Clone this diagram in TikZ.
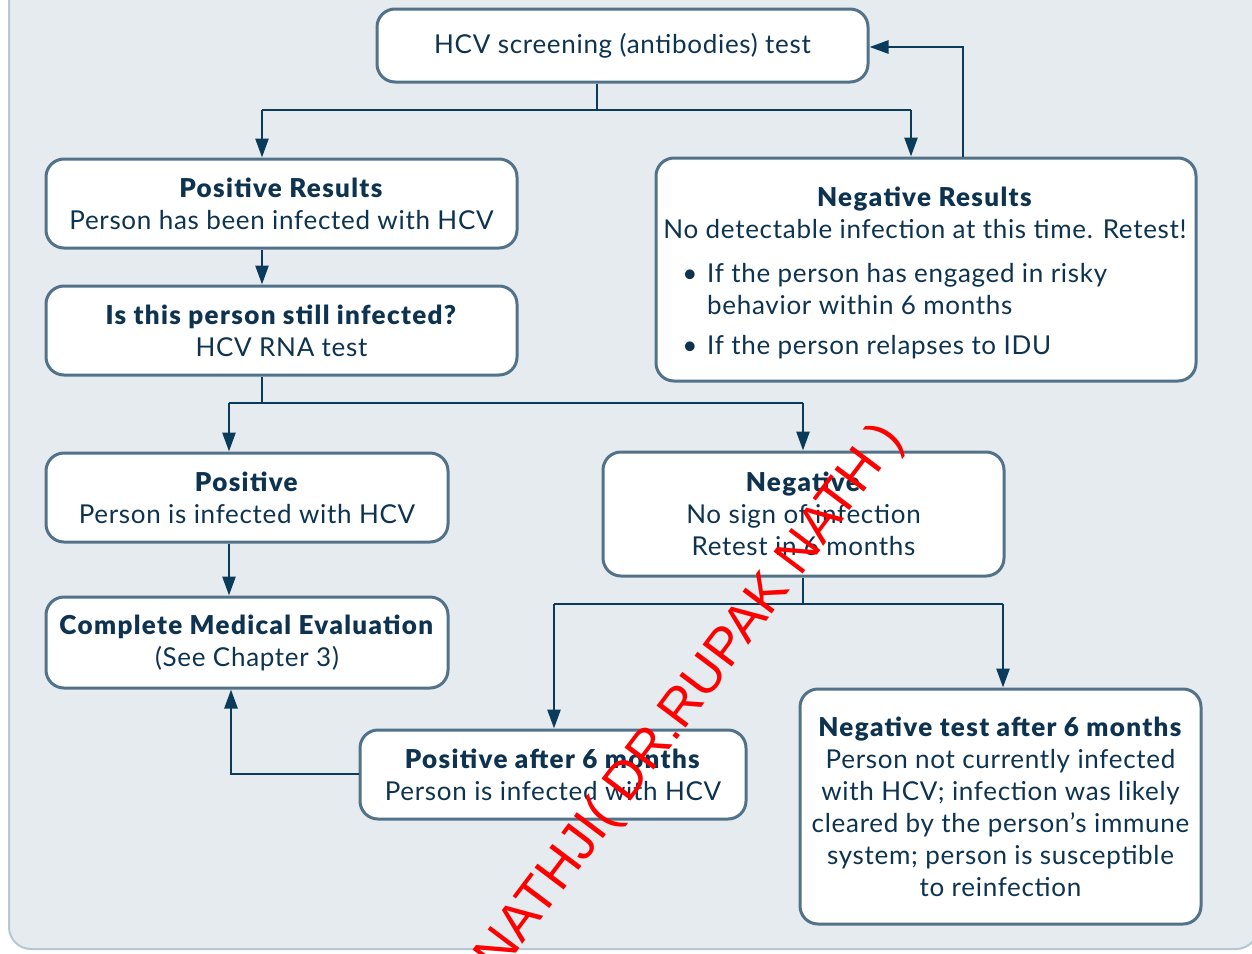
\documentclass[tikz,border=0pt]{standalone}
\usepackage{fontspec}
\setmainfont{Lato}[LetterSpace=2.7, BoldFont={Lato Black}, BoldFeatures={LetterSpace=5.2}]
\newfontfamily\wmfont{Liberation Sans}
\usetikzlibrary{arrows.meta}
\definecolor{panel}{HTML}{E5EBEE}
\definecolor{panelborder}{HTML}{B7C7D1}
\definecolor{boxborder}{HTML}{527289}
\definecolor{ink}{HTML}{0D3350}
\definecolor{arrowc}{HTML}{0B3B5B}
\begin{document}
\begin{tikzpicture}[x=1pt,y=-1pt,
  box/.style={draw=boxborder, line width=3pt, fill=white, rounded corners=18pt, inner sep=0pt, align=center, text=ink, font=\fontsize{26}{32}\selectfont},
  txt/.style={inner sep=0pt, text=ink, font=\fontsize{26}{32}\selectfont, anchor=base},
  conn/.style={draw=arrowc, line width=2.6pt},
  arr/.style={conn, -{Triangle[length=19pt,width=13pt]}},
]
\useasboundingbox (0,0) rectangle (1252,953);
\fill[white] (0,0) rectangle (1252,953);
\draw[panelborder, fill=panel, line width=2pt, rounded corners=22pt] (9,-40) rectangle (1258,949);

% boxes
\node[box, minimum width=491pt, minimum height=73pt] (b1) at (622.5,45.5) {HCV screening (antibodies) test};
\node[box, minimum width=471pt, minimum height=89pt] (b2) at (281.5,203.5) {\textbf{Positive Results}\\Person has been infected with HCV};
\node[box, minimum width=540pt, minimum height=223pt] (b3) at (926,269.5) {};
\node[txt] (b3t) at (925,206) {\textbf{Negative Results}};
\node[txt] (b3l) at (925,238) {No detectable infection at this time. Retest!};
\node[txt] (b3d1) at (690,282) {\textbullet};
\node[txt, anchor=base west] (b3i1) at (707,282) {If the person has engaged in risky};
\node[txt, anchor=base west] (b3i2) at (707,314) {behavior within 6 months};
\node[txt] (b3d2) at (690,354) {\textbullet};
\node[txt, anchor=base west] (b3i3) at (707,354) {If the person relapses to IDU};
\node[box, minimum width=471pt, minimum height=89pt] (b4) at (281.5,330.5) {\textbf{Is this person still infected?}\\HCV RNA test};
\node[box, minimum width=402pt, minimum height=89pt] (b5) at (247,497.5) {\textbf{Positive}\\Person is infected with HCV};
\node[box, minimum width=401pt, minimum height=124pt] (b6) at (803.5,514) {\textbf{Negative}\\No sign of infection\\Retest in 6 months};
\node[box, minimum width=402pt, minimum height=91pt] (b7) at (247,642.5) {\textbf{Complete Medical Evaluation}\\(See Chapter 3)};
\node[box, minimum width=386pt, minimum height=89pt] (b8) at (553,774.5) {\textbf{Positive after 6 months}\\Person is infected with HCV};
\node[box, minimum width=401pt, minimum height=235pt] (b9) at (1000.5,806.5) {\textbf{Negative test after 6 months}\\Person not currently infected\\with HCV; infection was likely\\cleared by the person’s immune\\system; person is susceptible\\to reinfection};

% junctions
\coordinate (j1) at (597,110);
\coordinate (j1L) at (262,110);
\coordinate (j1R) at (911,110);
\coordinate (fb) at (963,47);
\coordinate (j2) at (262,403);
\coordinate (j2L) at (229,403);
\coordinate (j2R) at (803,403);
\coordinate (j3) at (803,604);
\coordinate (j3L) at (554,604);
\coordinate (j3R) at (1003,604);
\coordinate (j4) at (231,774);

% connectors
\draw[conn] (b1.south -| j1) -- (j1);
\draw[conn] (j1L) -- (j1R);
\draw[arr] (j1L) -- (j1L |- b2.north);
\draw[arr] (j1R) -- (j1R |- b3.north);
\draw[arr] (fb |- b3.north) -- (fb) -- (fb -| b1.east);
\draw[arr] (j1L |- b2.south) -- (j1L |- b4.north);
\draw[conn] (b4.south -| j2) -- (j2);
\draw[conn] (j2L) -- (j2R);
\draw[arr] (j2L) -- (j2L |- b5.north);
\draw[arr] (j2R) -- (j2R |- b6.north);
\draw[arr] (j2L |- b5.south) -- (j2L |- b7.north);
\draw[conn] (b6.south -| j3) -- (j3);
\draw[conn] (j3L) -- (j3R);
\draw[arr] (j3L) -- (j3L |- b8.north);
\draw[arr] (j3R) -- (j3R |- b9.north);
\draw[arr] (j4 -| b8.west) -- (j4) -- (j4 |- b7.south);

% watermark
\node[text=red, inner sep=0pt, font=\wmfont\fontsize{53}{53}\selectfont, rotate=53] (wm) at (691,699) {NATHJI( DR.RUPAK NATH )};
\end{tikzpicture}
\end{document}
